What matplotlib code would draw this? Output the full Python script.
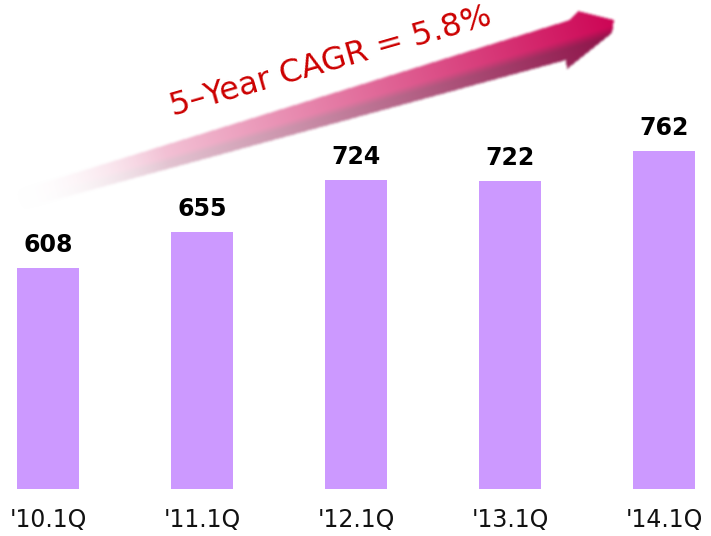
import numpy as np
import matplotlib
matplotlib.use("Agg")
import matplotlib.pyplot as plt
from matplotlib.path import Path

# ---- data ----
categories = ["'10.1Q", "'11.1Q", "'12.1Q", "'13.1Q", "'14.1Q"]
values = [608, 655, 724, 722, 762]
cagr_text = "5\u2013Year CAGR = 5.8%"

W, H = 711, 536
fig = plt.figure(figsize=(W / 100, H / 100), dpi=100)
fig.patch.set_facecolor("white")

# ---- bar axes ----
base = 317
scale = 1.3162  # value units per pixel
ax = fig.add_axes([0, 47 / H, 1, (H - 47) / H])
x = np.arange(len(categories))
ax.bar(x, np.array(values) - base, bottom=base, width=0.403, color="#CC99FF")
ax.set_xlim(-48 / 154, (W - 48) / 154)
ax.set_ylim(base, base + (H - 47) * scale)
for xi, v in zip(x, values):
    ax.annotate(f"{v}", (xi, v), xytext=(0, 8), textcoords="offset points",
                ha="center", va="bottom", fontsize=17, fontweight="bold",
                color="black", family="DejaVu Sans")
ax.set_xticks(x)
ax.set_xticklabels(categories, fontsize=17, family="DejaVu Sans", color="#111111")
ax.tick_params(axis="x", length=0, pad=14)
ax.set_yticks([])
for s in ax.spines.values():
    s.set_visible(False)
ax.patch.set_alpha(0)

# ---- arrow overlay (pixel coordinates) ----
ov = fig.add_axes([0, 0, 1, 1], zorder=-1)
ov.set_xlim(0, W)
ov.set_ylim(H, 0)
ov.axis("off")

poly = [(20, 190), (570, 20), (578, 11), (614, 20), (612, 33), (567, 69),
        (566, 60), (25, 208), (14, 200)]
path = Path(poly + [poly[0]], closed=True)
yy, xx = np.mgrid[0:H, 0:W] + 0.5
pts = np.column_stack([xx.ravel(), yy.ravel()])
mask = path.contains_points(pts).reshape(H, W).astype(float)
k = np.array([1, 2, 3, 2, 1], float)
k /= k.sum()
mask = np.apply_along_axis(lambda r: np.convolve(r, k, mode="same"), 1, mask)
mask = np.apply_along_axis(lambda c: np.convolve(c, k, mode="same"), 0, mask)

tail = np.array([18.0, 200.0])
tip = np.array([614.0, 20.0])
d = tip - tail
L = np.hypot(*d)
t = ((xx - tail[0]) * d[0] + (yy - tail[1]) * d[1]) / L**2
t = np.clip(t, 0, 1)
ytop = 190 - (xx - 20) * 0.309
ybot = 208 - (xx - 25) * 0.2735
u = np.clip((yy - ytop) / np.maximum(ybot - ytop, 1), 0, 1)
sm = np.clip((u - 0.42) / 0.35, 0, 1)
sm = sm * sm * (3 - 2 * sm)
top_c = np.array([205, 5, 85]) / 255
bot_c = np.array([140, 15, 70]) / 255
col = top_c[None, None, :] * (1 - sm[..., None]) + bot_c[None, None, :] * sm[..., None]
w = t ** 1.0
rgb = (1 - w[..., None]) + col * w[..., None]
alpha = mask * np.clip(t * 4, 0, 1)
img = np.dstack([rgb, alpha])
ov.imshow(img, extent=(0, W, H, 0), interpolation="bilinear", aspect="auto")
ov.set_xlim(0, W)
ov.set_ylim(H, 0)

ov.text(331, 62, cagr_text, rotation=16, rotation_mode="anchor",
        ha="center", va="center", fontsize=23, color="#CC0000",
        family="DejaVu Sans")

fig.savefig("out.png", dpi=100, facecolor="white")
